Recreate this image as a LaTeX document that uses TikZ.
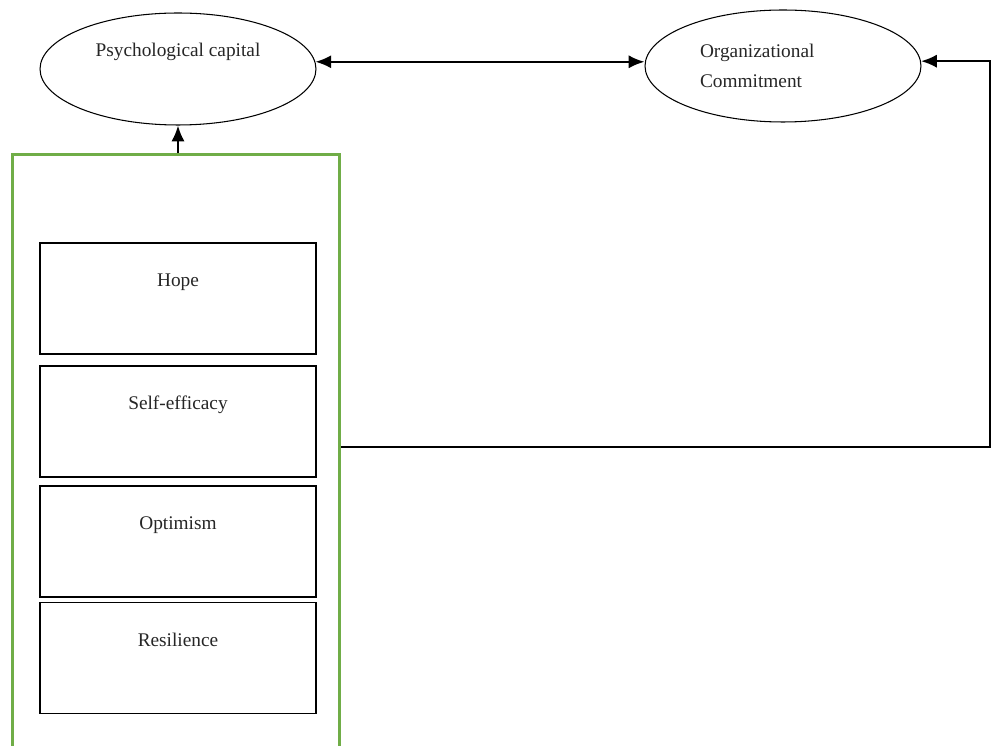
\documentclass[tikz,border=0pt]{standalone}
\usepackage{fontspec}
\setmainfont{Liberation Serif}
\definecolor{framegreen}{RGB}{112, 173, 71}
\usepackage{tikz}
\usetikzlibrary{shapes.geometric, arrows.meta, positioning, calc}

\tikzset{
  construct/.style={draw, ellipse, line width=0.6pt, minimum width=5.52cm, minimum height=2.24cm, inner sep=0pt, font=\fontsize{11}{17}\selectfont, text=black!85},
  dimbox/.style={draw, line width=1.1pt, minimum width=5.52cm, inner sep=0pt, text height=0.88cm, text depth=1.34cm, font=\fontsize{11}{13}\selectfont, text=black!85},
  link/.style={line width=1.2pt},
  tip/.style={-{Latex[length=9pt,width=7.5pt]}}
}

\begin{document}
\begin{tikzpicture}[x=0.02cm, y=-0.02cm]
  \useasboundingbox (0,0) rectangle (992,746);

  % ===== Constructs =====
  \node[construct, align=center] (psy) at (178, 69) {Psychological capital\\ \strut};
  \node[construct, align=left, text width=3.32cm] (org) at (783, 66) {Organizational\\Commitment};

  % ===== Dimensions of PsyCap =====
  \node[draw=framegreen, line width=1.7pt, minimum width=6.56cm, minimum height=12.3cm, inner sep=0pt] (capbox) at (176, 462) {};

  \node[dimbox] (hope) at (178, 298.5) {Hope};
  \node[dimbox] (eff)  at (178, 421.5) {Self-efficacy};
  \node[dimbox] (opt)  at (178, 541.5) {Optimism};
  \node[dimbox] (res)  at (178, 658) {Resilience};

  % Arrows
  \coordinate (turn) at (990, 447);
  \draw[link, {Latex[length=9pt,width=7.5pt]}-{Latex[length=9pt,width=7.5pt]}] (psy.3) -- (psy.3 -| org.west);
  \draw[link, tip] (psy.south |- capbox.north) -- (psy.south);
  \draw[link, tip] (capbox.east |- turn) -- (turn) |- (org.2);
\end{tikzpicture}
\end{document}
